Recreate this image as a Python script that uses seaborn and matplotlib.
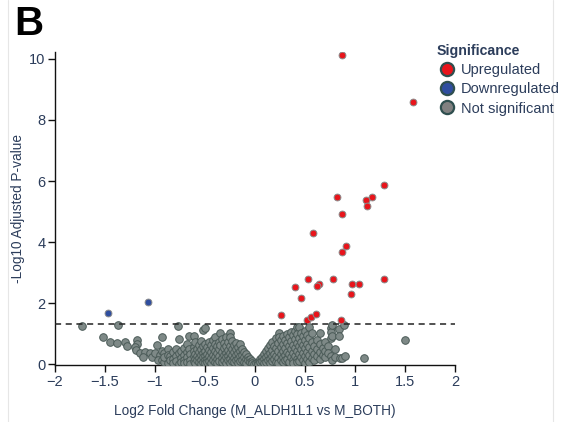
import matplotlib
matplotlib.use("Agg")
import matplotlib.pyplot as plt
from matplotlib.lines import Line2D
import numpy as np
import pandas as pd
import seaborn as sns

# ---- data -----------------------------------------------------------------
up_lfc = [0.873, 1.58, 1.287, 0.817, 1.167, 1.11, 1.117, 0.873, 0.577, 0.913,
          0.867, 0.527, 0.777, 1.287, 0.40, 0.643, 0.623, 0.97, 1.04, 0.963,
          0.463, 0.263, 0.523, 0.563, 0.61, 0.857]
up_p = [10.14, 8.58, 5.86, 5.48, 5.48, 5.39, 5.19, 4.93, 4.31, 3.88,
        3.66, 2.80, 2.80, 2.80, 2.52, 2.64, 2.57, 2.64, 2.64, 2.29,
        2.16, 1.62, 1.45, 1.54, 1.63, 1.43]

down_lfc = [-1.473, -1.067]
down_p = [1.68, 2.03]

# not significant genes, listed column by column along the fold-change axis
ns_cols = [
    (-1.733, [1.24]), (-1.523, [0.89]), (-1.45, [0.73]), (-1.373, [1.29]),
    (-1.38, [0.69]), (-1.30, [0.71]), (-1.283, [0.59]), (-1.177, [0.78]),
    (-1.183, [0.65]), (-1.20, [0.56]), (-1.193, [0.46]), (-1.15, [0.37]),
    (-1.10, [0.40]), (-1.05, [0.37]), (-1.117, [0.24]), (-1.033, [0.24]),
    (-1.00, [0.35]), (-0.95, [0.29]), (-0.933, [0.89]), (-0.967, [0.13]),
    (-0.977, [0.61]), (-0.767, [1.26]),
    (-0.93, [0.43, 0.15]), (-0.905, [0.35, 0.07, 0.22]), (-0.87, [0.49, 0.31, 0.04]),
    (-0.852, [0.26, 0.13]), (-0.82, [0.39, 0.17, 0.03]), (-0.785, [0.49, 0.27, 0.11]),
    (-0.76, [0.81, 0.36, 0.02]), (-0.742, [0.44, 0.19, 0.08]),
    (-0.713, [0.54, 0.31, 0.15, 0.03]), (-0.684, [0.67, 0.41, 0.22, 0.07]),
    (-0.657, [0.91, 0.50]), (-0.646, [0.33, 0.14, 0.02]),
    (-0.61, [0.93, 0.57, 0.43, 0.25, 0.09]), (-0.597, [0.71, 0.34, 0.18, 0.04]),
    (-0.578, [0.50, 0.27, 0.12]), (-0.561, [0.63, 0.40, 0.21, 0.06]),
    (-0.54, [0.76, 0.49, 0.30, 0.14, 0.02]), (-0.523, [1.13, 0.58, 0.37, 0.22, 0.08]),
    (-0.50, [1.18, 0.66, 0.44, 0.26, 0.12, 0.03]), (-0.483, [0.55, 0.33, 0.18, 0.06]),
    (-0.462, [0.72, 0.46, 0.28, 0.10]), (-0.438, [0.62, 0.39, 0.20, 0.04]),
    (-0.421, [0.80, 0.52, 0.31, 0.14]), (-0.40, [0.89, 0.66, 0.42, 0.24, 0.08]),
    (-0.383, [0.58, 0.36, 0.17, 0.03]), (-0.362, [0.74, 0.48, 0.28, 0.10]),
    (-0.35, [1.03, 0.62]), (-0.331, [0.82, 0.40, 0.20, 0.06]),
    (-0.308, [0.68, 0.52, 0.30, 0.14]), (-0.292, [0.88, 0.58, 0.38, 0.22, 0.05]),
    (-0.271, [0.72, 0.46, 0.28, 0.12]), (-0.25, [1.03, 0.89, 0.60, 0.36, 0.18, 0.04]),
    (-0.232, [0.76, 0.50, 0.30, 0.10]), (-0.209, [0.62, 0.40, 0.20, 0.06]),
    (-0.19, [0.70, 0.48, 0.30, 0.12]), (-0.168, [0.56, 0.36, 0.18, 0.04]),
    (-0.15, [0.67, 0.44, 0.26, 0.10]), (-0.131, [0.50, 0.30, 0.14]),
    (-0.112, [0.40, 0.24, 0.08]), (-0.089, [0.32, 0.18, 0.05]),
    (-0.07, [0.24, 0.12]), (-0.051, [0.16, 0.06]), (-0.03, [0.10, 0.03]),
    (-0.01, [0.02]),
    (0.01, [0.03]), (0.031, [0.08, 0.02]), (0.05, [0.16, 0.06]), (0.071, [0.24, 0.10]),
    (0.09, [0.32, 0.16, 0.04]), (0.111, [0.42, 0.24, 0.08]), (0.129, [0.52, 0.30, 0.12]),
    (0.15, [0.64, 0.38, 0.18, 0.05]), (0.172, [0.72, 0.46, 0.26, 0.10]),
    (0.19, [0.60, 0.34, 0.16]), (0.211, [0.84, 0.52, 0.28, 0.08]),
    (0.228, [0.70, 0.42, 0.20, 0.04]), (0.245, [1.03, 0.89]),
    (0.262, [0.78, 0.56, 0.34, 0.14]), (0.28, [0.92, 0.66, 0.44, 0.24, 0.06]),
    (0.302, [0.80, 0.52, 0.30, 0.12]), (0.319, [1.00, 0.70, 0.40, 0.18]),
    (0.34, [0.88, 0.60, 0.34, 0.08]), (0.358, [1.06, 0.76, 0.48, 0.24]),
    (0.381, [0.94, 0.64, 0.38, 0.14, 0.03]), (0.40, [1.10, 0.82, 0.54, 0.28]),
    (0.417, [1.22, 0.98, 0.70, 0.44, 0.18, 0.06]), (0.443, [1.22, 0.86, 0.58, 0.32, 0.10]),
    (0.461, [1.02, 0.74, 0.48, 0.22]), (0.479, [0.92, 0.64, 0.36, 0.12]),
    (0.50, [1.10, 0.80, 0.52, 0.26, 0.05]), (0.521, [0.96, 0.66, 0.40, 0.16]),
    (0.543, [1.22, 0.86, 0.56, 0.30, 0.08]), (0.567, [1.03, 0.72, 0.44, 0.20]),
    (0.59, [0.60, 0.34, 0.12]), (0.62, [0.78, 0.50, 0.26]),
    (0.65, [1.02, 0.66, 0.40, 0.18]), (0.68, [0.54, 0.30]),
    (0.70, [0.72, 0.44, 0.22]), (0.73, [0.60, 0.36]),
    (0.757, [1.18, 1.05, 0.87, 0.28]), (0.767, [1.27, 0.91, 0.15]),
    (0.80, [0.48, 0.22]), (0.843, [1.16, 0.92]), (0.85, [0.20]),
    (0.867, [0.19]), (0.89, [1.27]), (0.90, [0.28]),
    (1.093, [0.19]), (1.50, [0.78]),
]
ns_lfc = [x for x, ys in ns_cols for _ in ys]
ns_p = [y for _, ys in ns_cols for y in ys]

threshold = -np.log10(0.05)

df = pd.DataFrame({
    "lfc": ns_lfc + up_lfc + down_lfc,
    "nlp": ns_p + up_p + down_p,
    "Significance": (["Not significant"] * len(ns_lfc)
                     + ["Upregulated"] * len(up_lfc)
                     + ["Downregulated"] * len(down_lfc)),
})

# ---- style ----------------------------------------------------------------
sns.set_style("ticks")
plt.rcParams["font.family"] = ["Liberation Sans", "DejaVu Sans"]
text_col = "#2c3d5b"

fig = plt.figure(figsize=(5.61, 4.22), dpi=100)
ax = fig.add_axes([0.098, 0.135, 0.713, 0.742])

styles = {
    "Not significant": dict(color="#7e8987", edgecolor="#4a5a57", s=30, lw=0.7),
    "Upregulated": dict(color="#e8141b", edgecolor="#8a8a8a", s=24, lw=0.7),
    "Downregulated": dict(color="#2f4ea0", edgecolor="#8a8a8a", s=24, lw=0.7),
}
for cat in ["Not significant", "Upregulated", "Downregulated"]:
    st = styles[cat]
    sns.scatterplot(data=df[df["Significance"] == cat], x="lfc", y="nlp",
                    color=st["color"], edgecolor=st["edgecolor"], s=st["s"],
                    linewidth=st["lw"], legend=False, ax=ax, zorder=3)

ax.axhline(threshold, color="#222222", lw=1.1, ls=(0, (4, 3)), zorder=4)

ax.set_xlim(-2, 2)
ax.set_ylim(-0.03, 10.23)
ax.set_xticks([-2, -1.5, -1, -0.5, 0, 0.5, 1, 1.5, 2])
ax.set_xticklabels(["\u22122", "\u22121.5", "\u22121", "\u22120.5", "0", "0.5", "1", "1.5", "2"])
ax.set_yticks([0, 2, 4, 6, 8, 10])
sns.despine(ax=ax)
for sp in ("left", "bottom"):
    ax.spines[sp].set_color("#111111")
    ax.spines[sp].set_linewidth(1.0)
ax.tick_params(axis="both", length=5, width=1, color="#111111",
               labelsize=10.5, labelcolor=text_col, pad=2)

ax.set_xlabel("Log2 Fold Change (M_ALDH1L1 vs M_BOTH)", fontsize=9.8,
              color=text_col)
ax.xaxis.set_label_coords(0.5, -0.125)
ax.set_ylabel("-Log10 Adjusted P-value", fontsize=9.8, color=text_col)
ax.yaxis.set_label_coords(-0.074, 0.5)

handles = [Line2D([0], [0], marker="o", ls="", markersize=9.5,
                  markerfacecolor=c, markeredgecolor="#2f4f4f", markeredgewidth=1.6)
           for c in ["#e8141b", "#2f4ea0", "#808080"]]
leg = fig.legend(handles, ["Upregulated", "Downregulated", "Not significant"],
                 title="Significance", loc="upper left",
                 bbox_to_anchor=(0.768, 0.91), frameon=False,
                 fontsize=10.5, title_fontsize=10.2, handletextpad=0.25,
                 labelspacing=0.36, borderaxespad=0, handlelength=1.4,
                 alignment="left")
leg.get_title().set_fontweight("bold")
leg.get_title().set_color(text_col)
for t in leg.get_texts():
    t.set_color(text_col)

fig.text(0.025, 0.916, "B", fontsize=29, fontweight="bold", color="black")

# faint panel borders
fig.add_artist(Line2D([8 / 561, 8 / 561], [0, 1], color="#e6e6e6", lw=0.8))
fig.add_artist(Line2D([553 / 561, 553 / 561], [0, 1], color="#e6e6e6", lw=0.8))

fig.savefig("out.png", dpi=100)
